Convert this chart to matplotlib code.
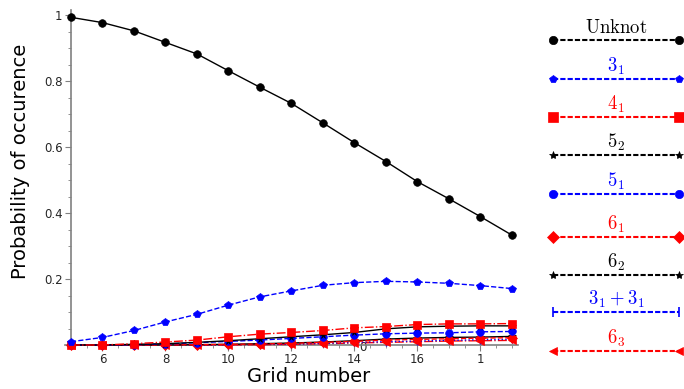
import numpy as np
import matplotlib
matplotlib.use('Agg')
import matplotlib.pyplot as plt
from matplotlib.ticker import MultipleLocator, FixedLocator

plt.rcParams['mathtext.fontset'] = 'cm'

# --- data ---

gridNumber = list(range(5, 20))

unknot = [0.993, 0.977, 0.952, 0.917, 0.882, 0.831, 0.781, 0.732, 0.673,
          0.613, 0.556, 0.495, 0.443, 0.389, 0.333]
knot31 = [0.010, 0.023, 0.044, 0.070, 0.093, 0.121, 0.146, 0.164, 0.181,
          0.189, 0.193, 0.191, 0.187, 0.180, 0.171]
knot41 = [0.000, 0.000, 0.004, 0.009, 0.015, 0.025, 0.033, 0.038, 0.044,
          0.052, 0.056, 0.062, 0.064, 0.064, 0.065]
knot52 = [0.000, 0.000, 0.002, 0.004, 0.008, 0.013, 0.019, 0.025, 0.031,
          0.038, 0.049, 0.055, 0.057, 0.058, 0.058]
knot51 = [0.000, 0.000, 0.001, 0.003, 0.007, 0.011, 0.015, 0.020, 0.025,
          0.030, 0.034, 0.036, 0.037, 0.040, 0.041]
knot61 = [0.000, 0.000, 0.000, 0.000, 0.001, 0.002, 0.003, 0.005, 0.008,
          0.011, 0.015, 0.017, 0.019, 0.021, 0.022]
knot62 = [0.000, 0.000, 0.000, 0.000, 0.001, 0.002, 0.004, 0.006, 0.009,
          0.013, 0.018, 0.021, 0.023, 0.024, 0.026]
knot3131 = [0.000, 0.000, 0.000, 0.000, 0.000, 0.001, 0.002, 0.003, 0.005,
            0.008, 0.010, 0.012, 0.014, 0.016, 0.017]
knot63 = [0.000, 0.000, 0.000, 0.000, 0.000, 0.000, 0.001, 0.002, 0.004,
          0.006, 0.008, 0.010, 0.012, 0.013, 0.014]

labels = [r'$\mathrm{Unknot}$', r'$3_1$', r'$4_1$', r'$5_2$', r'$5_1$',
          r'$6_1$', r'$6_2$', r'$3_1 + 3_1$', r'$6_3$']
series = [unknot, knot31, knot41, knot52, knot51, knot61, knot62, knot3131, knot63]

# --- styles ---
colors = ['black', 'blue', 'red', 'black', 'blue', 'red', 'black', 'blue', 'red']
markers = ['o', 'p', 's', '*', 'o', 'D', '*', '|', '<']
styles = ['-', '--', '-.', '-', '--', '--', '-', ':', '-.']
msizes = [5.5, 5.5, 6, 5.5, 5.5, 5.5, 5.5, 6, 5.5]

xTicks = [6, 8, 10, 12, 14, 16, 18]
xTickLabels = ['6', '8', '10', '12', '14', '16', '1']
yTicks = [0.2, 0.4, 0.6, 0.8, 1.0]
yTickLabels = ['0.2', '0.4', '0.6', '0.8', '1']

axisGrey = '0.5'
textGrey = '0.15'

fig = plt.figure(figsize=(6.84, 3.89), dpi=100)
ax = fig.add_axes([0.0946, 0.1131, 0.663, 0.861])

# draw small series first so unknot / 3_1 sit on top
for i in reversed(range(len(series))):
    ax.plot(gridNumber, series[i], color=colors[i], marker=markers[i],
            linestyle=styles[i], linewidth=1, markersize=msizes[i],
            markeredgewidth=1 if markers[i] == '|' else 0.5,
            clip_on=False, zorder=3)

ax.set_xlim(4.8, 19.2)
ax.set_ylim(0, 1.015)

for s in ['top', 'right']:
    ax.spines[s].set_visible(False)
ax.spines['left'].set_position(('data', 5))
ax.spines['left'].set_color(axisGrey)
ax.spines['bottom'].set_color(axisGrey)
ax.spines['left'].set_linewidth(1.2)
ax.spines['bottom'].set_linewidth(1.2)

ax.xaxis.set_major_locator(FixedLocator(xTicks))
ax.set_xticklabels(xTickLabels)
ax.xaxis.set_minor_locator(MultipleLocator(0.5))
ax.yaxis.set_major_locator(FixedLocator(yTicks))
ax.set_yticklabels(yTickLabels)
ax.yaxis.set_minor_locator(MultipleLocator(0.05))
ax.tick_params(which='major', length=4, width=0.8, color=axisGrey,
               labelsize=8.5, labelcolor=textGrey, pad=2)
ax.tick_params(which='minor', length=2, width=0.6, color=axisGrey)

# stray zero label of the original
ax.text(14.27, -0.008, '0', ha='center', va='center', fontsize=8.5,
        color=textGrey, clip_on=False, zorder=1)

fig.text(309 / 684, 1 - 376 / 389, 'Grid number', ha='center', va='center',
         fontsize=14, color='black')
fig.text(21 / 684, 1 - 161 / 389, 'Probability of occurence', ha='center',
         va='center', rotation=90, fontsize=14, color='black')

# --- hand-made legend on the right ---
lax = fig.add_axes([0, 0, 1, 1])
lax.set_xlim(0, 684)
lax.set_ylim(389, 0)
lax.axis('off')
lineY = [40, 79, 117, 155, 194, 237, 275, 312, 351]
for i in range(len(labels)):
    lax.plot([553, 679], [lineY[i], lineY[i]], color=colors[i],
             marker=markers[i], linestyle=(0, (2.5, 1)), linewidth=1.5,
             markersize=msizes[i] + 0.5, markeredgewidth=1.2 if markers[i] == '|' else 0.5,
             clip_on=False)
    lax.text(616, lineY[i] - 13, labels[i], ha='center', va='center',
             fontsize=13.5, color=colors[i])

fig.savefig('out.png', dpi=100)
